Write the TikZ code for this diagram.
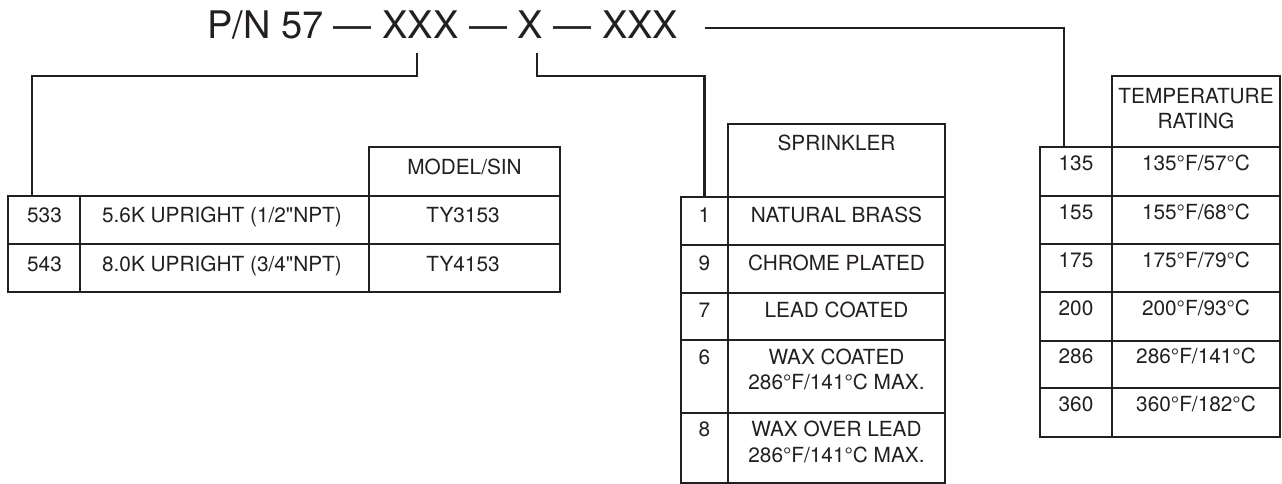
\documentclass[tikz,border=0pt]{standalone}
\usepackage{fontspec}
\setmainfont{TeX Gyre Heros}[Ligatures=TeXOff]
\definecolor{ink}{HTML}{231F20}
\begin{document}
\begin{tikzpicture}[x=1pt,y=-1pt,
  cell/.style 2 args={draw=ink, line width=2.4pt, inner sep=0pt, minimum width=#1, minimum height=#2},
  txt/.style={anchor=base, inner sep=0pt, text=ink, font=\fontsize{20.8}{25}\selectfont, align=center},
  conn/.style={draw=ink, line width=2.2pt}]
\useasboundingbox (0,0) rectangle (1282,484);
% title
\node[anchor=base west, inner sep=0pt, text=ink, font=\fontsize{38}{40}\selectfont] (title) at (207,39) {P/N 57 — XXX — X — XXX};
\coordinate (c1) at (417,53);
\coordinate (c2) at (537,53);
\coordinate (c3) at (705,28);
% ---- left table ----
\node[cell={191pt}{49pt}] (mh) at (464.5,171.5) {};
\node[cell={72pt}{48pt}] (a1) at (44,220) {};
\node[cell={289pt}{48pt}] (a2) at (224.5,220) {};
\node[cell={191pt}{48pt}] (a3) at (464.5,220) {};
\node[cell={72pt}{48pt}] (b1) at (44,268) {};
\node[cell={289pt}{48pt}] (b2) at (224.5,268) {};
\node[cell={191pt}{48pt}] (b3) at (464.5,268) {};
\node[txt] at (464.5,174) {MODEL/SIN};
\node[txt] at (44.5,222.5) {533};
\node[txt] at (222,222.5) {5.6K UPRIGHT (1/2"NPT)};
\node[txt] at (463,222.5) {TY3153};
\node[txt] at (44.5,271) {543};
\node[txt] at (222,271) {8.0K UPRIGHT (3/4"NPT)};
\node[txt] at (463,271) {TY4153};
\coordinate (e1) at (32,196);
% ---- sprinkler table ----
\node[cell={217pt}{73pt}] (sh) at (836.5,160.5) {};
\node[cell={47pt}{48pt}] (s1n) at (704.5,221) {};
\node[cell={217pt}{48pt}] (s1t) at (836.5,221) {};
\node[cell={47pt}{48pt}] (s2n) at (704.5,269) {};
\node[cell={217pt}{48pt}] (s2t) at (836.5,269) {};
\node[cell={47pt}{47pt}] (s3n) at (704.5,316.5) {};
\node[cell={217pt}{47pt}] (s3t) at (836.5,316.5) {};
\node[cell={47pt}{73pt}] (s4n) at (704.5,376.5) {};
\node[cell={217pt}{73pt}] (s4t) at (836.5,376.5) {};
\node[cell={47pt}{70pt}] (s5n) at (704.5,448) {};
\node[cell={217pt}{70pt}] (s5t) at (836.5,448) {};
\node[txt] at (836.5,150) {SPRINKLER};
\node[txt] at (704.5,222) {1};
\node[txt] at (836.5,222) {NATURAL BRASS};
\node[txt] at (704.5,270) {9};
\node[txt] at (836.5,270) {CHROME PLATED};
\node[txt] at (704.5,317.3) {7};
\node[txt] at (836.5,317.3) {LEAD COATED};
\node[txt] at (704.5,364) {6};
\node[txt] at (836.5,364) {WAX COATED};
\node[txt] at (836.5,389.5) {286°F/141°C MAX.};
\node[txt] at (704.5,436.7) {8};
\node[txt] at (836.5,436.7) {WAX OVER LEAD};
\node[txt] at (836.5,462.5) {286°F/141°C MAX.};
% ---- temperature table ----
\node[cell={168pt}{71pt}] (th) at (1196,111.5) {};
\node[cell={72pt}{49pt}] (t1n) at (1076,171.5) {};
\node[cell={168pt}{49pt}] (t1t) at (1196,171.5) {};
\node[cell={72pt}{48pt}] (t2n) at (1076,220) {};
\node[cell={168pt}{48pt}] (t2t) at (1196,220) {};
\node[cell={72pt}{48pt}] (t3n) at (1076,268) {};
\node[cell={168pt}{48pt}] (t3t) at (1196,268) {};
\node[cell={72pt}{49pt}] (t4n) at (1076,316.5) {};
\node[cell={168pt}{49pt}] (t4t) at (1196,316.5) {};
\node[cell={72pt}{47pt}] (t5n) at (1076,364.5) {};
\node[cell={168pt}{47pt}] (t5t) at (1196,364.5) {};
\node[cell={72pt}{49pt}] (t6n) at (1076,412.5) {};
\node[cell={168pt}{49pt}] (t6t) at (1196,412.5) {};
\node[txt] at (1196,103.3) {TEMPERATURE};
\node[txt] at (1196,128.3) {RATING};
\node[txt] at (1076,170.5) {135};
\node[txt] at (1196,170.5) {135°F/57°C};
\node[txt] at (1076,219) {155};
\node[txt] at (1196,219) {155°F/68°C};
\node[txt] at (1076,267) {175};
\node[txt] at (1196,267) {175°F/79°C};
\node[txt] at (1076,315.5) {200};
\node[txt] at (1196,315.5) {200°F/93°C};
\node[txt] at (1076,363.5) {286};
\node[txt] at (1196,363.5) {286°F/141°C};
\node[txt] at (1076,411.5) {360};
\node[txt] at (1196,411.5) {360°F/182°C};
\coordinate (e3) at (1064,147);
% ---- connectors ----
\draw[conn] (c1) -- ++(0,23) -| (e1);
\draw[conn] (c2) -- ++(0,23) -| (s1n.north);
\draw[conn] (c3) -| (e3);
\end{tikzpicture}
\end{document}
